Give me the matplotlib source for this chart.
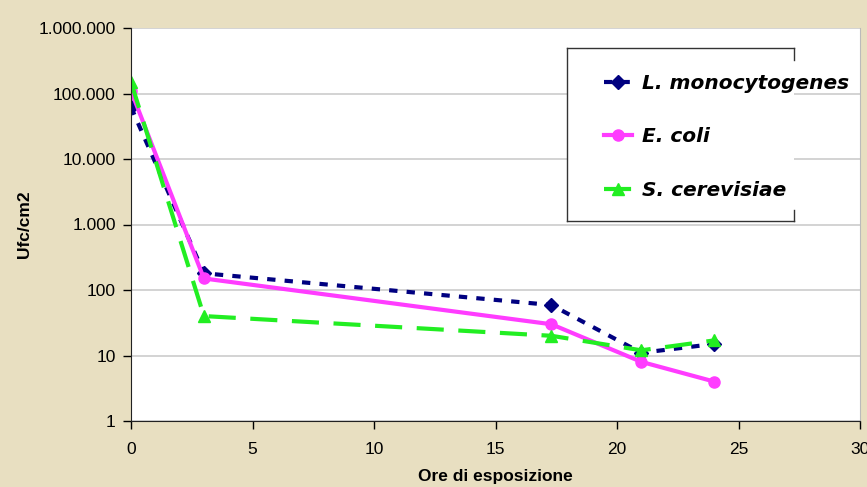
import matplotlib.pyplot as plt
from matplotlib.ticker import FixedLocator, FixedFormatter
from matplotlib.lines import Line2D

hours = [0, 3, 17.3, 21, 24]
listeria = [62000, 180, 59, 11, 15]
ecoli = [110000, 150, 30, 8, 4]
saccharo = [150000, 40, 20, 12, 17]

names = ["L. monocytogenes", "E. coli", "S. cerevisiae"]
y_ticks = [1, 10, 100, 1000, 10000, 100000, 1000000]
y_labels = ["1", "10", "100", "1.000", "10.000", "100.000", "1.000.000"]
x_ticks = [0, 5, 10, 15, 20, 25, 30]

bg = "#e8dfc1"
plt.rcParams['font.family'] = ['Liberation Sans', 'DejaVu Sans']

fig = plt.figure(figsize=(8.67, 4.87), dpi=100, facecolor=bg)
ax = fig.add_axes([131 / 867, 1 - 421 / 487, (860 - 131) / 867, (421 - 28) / 487])
ax.set_facecolor("white")

ax.plot(hours, listeria, color="#000080", lw=3, ls=(0, (2, 2.2)),
        marker="D", ms=7, label=names[0])
ax.plot(hours, ecoli, color="#ff3cff", lw=3, ls="-",
        marker="o", ms=8, label=names[1])
ax.plot(hours, saccharo, color="#22ee22", lw=3, ls=(0, (6.5, 3.5)),
        marker="^", ms=8, label=names[2])

ax.set_yscale("log")
ax.set_ylim(1, 1000000)
ax.set_xlim(0, 30)
ax.yaxis.set_major_locator(FixedLocator(y_ticks))
ax.yaxis.set_major_formatter(FixedFormatter(y_labels))
ax.yaxis.set_minor_locator(FixedLocator([]))
ax.set_xticks(x_ticks)
ax.tick_params(axis="both", direction="out", length=6, labelsize=12.5, width=1)
ax.tick_params(axis="x", pad=9)
ax.tick_params(axis="y", pad=5)
ax.grid(axis="y", color="#cccccc", lw=1.2)
ax.set_axisbelow(True)
ax.spines["top"].set_visible(False)
ax.spines["right"].set_color("#bbbbbb")
ax.spines["left"].set_color("#222222")
ax.spines["bottom"].set_color("#222222")

ax.set_xlabel("Ore di esposizione", fontsize=12.5, fontweight="bold", labelpad=9)
ax.set_ylabel("Ufc/cm2", fontsize=12.5, fontweight="bold", labelpad=5)

# legend box
fx = lambda px: px / 867
fy = lambda py: 1 - py / 487
box = plt.Rectangle((fx(567), fy(221)), fx(794) - fx(567), fy(48) - fy(221),
                    transform=fig.transFigure, facecolor="white",
                    edgecolor="none", zorder=5, clip_on=False)
ax.add_patch(box)
edge = dict(color="#333333", lw=1, transform=fig.transFigure, zorder=6, clip_on=False)
ax.add_line(Line2D([fx(567), fx(794)], [fy(48), fy(48)], **edge))
ax.add_line(Line2D([fx(567), fx(794)], [fy(221), fy(221)], **edge))
ax.add_line(Line2D([fx(567), fx(567)], [fy(48), fy(221)], **edge))
ax.add_line(Line2D([fx(794), fx(794)], [fy(48), fy(60)], **edge))
ax.add_line(Line2D([fx(794), fx(794)], [fy(210), fy(221)], **edge))

leg = ax.legend(loc="upper left", bbox_to_anchor=(fx(586), fy(56)),
                bbox_transform=fig.transFigure, frameon=False,
                prop=dict(family="DejaVu Sans", size=14.5, weight="bold", style="italic"),
                handlelength=1.4, labelspacing=1.7, handletextpad=0.5)
leg.set_zorder(7)

fig.savefig("out.png", dpi=100, facecolor=bg)
